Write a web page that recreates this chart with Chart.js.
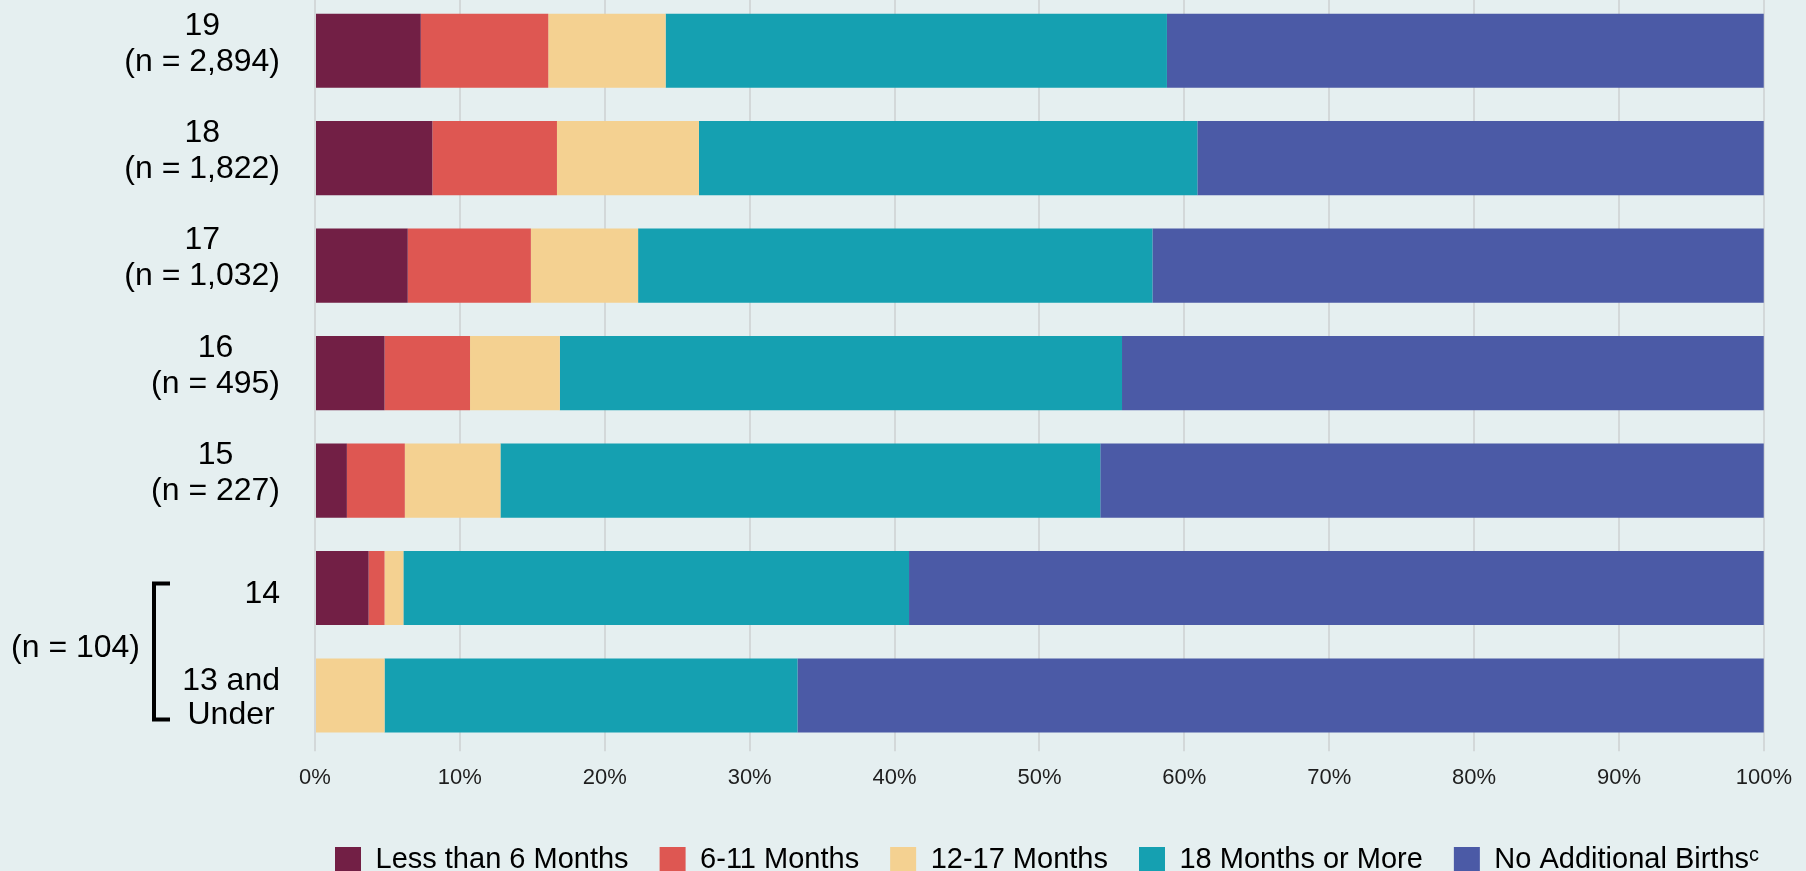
<!DOCTYPE html>
<html>
<head>
<meta charset="utf-8">
<title>Birth intervals by age at first birth</title>
<script src="https://cdn.jsdelivr.net/npm/chart.js@4/dist/chart.umd.min.js"></script>
<style>
  html, body { margin: 0; padding: 0; background: #e5eff0; overflow: hidden; width: 1806px; height: 871px; }
  #wrap { position: relative; width: 1806px; height: 871px; overflow: hidden; }
  #chart { position: absolute; left: 0; top: -3px; }
</style>
</head>
<body>
<div id="wrap"><canvas id="chart" width="1806" height="887"></canvas></div>
<script>
// Age at first birth, top to bottom
const ages = ['19', '18', '17', '16', '15', '14', '13 and Under'];
const sampleSizes = ['n = 2,894', 'n = 1,822', 'n = 1,032', 'n = 495', 'n = 227', null, null];
const groupedSize = 'n = 104'; // 14 and 13 and Under together

const seriesNames = ['Less than 6 Months', '6-11 Months', '12-17 Months', '18 Months or More', 'No Additional Births\u1D9C'];
const seriesColors = ['#721f45', '#de5752', '#f4d191', '#15a0b1', '#4b5aa6'];

// Percent of each age group
const lessThan6 = [7.3, 8.1, 6.4, 4.8, 2.2, 3.7, 0];
const months6to11 = [8.8, 8.6, 8.5, 5.9, 4.0, 1.1, 0];
const months12to17 = [8.1, 9.8, 7.4, 6.2, 6.6, 1.3, 4.8];
const months18plus = [34.6, 34.4, 35.5, 38.8, 41.4, 34.9, 28.5];
const noMoreBirths = [41.2, 39.1, 42.2, 44.3, 45.8, 59.0, 66.7];

const xTicks = [0, 10, 20, 30, 40, 50, 60, 70, 80, 90, 100];

const FONT = '"Liberation Sans", Arial, sans-serif';
const LABEL_RIGHT = 280;
const LEGEND_LEFT = 335;

// y-axis labels: each line centred, block right-aligned to the plot
const yLabelPlugin = {
    id: 'yLabels',
    afterDraw(chart) {
        const ctx = chart.ctx;
        const yScale = chart.scales.y;
        ctx.save();
        ctx.font = '32px ' + FONT;
        ctx.fillStyle = '#000';
        ctx.textBaseline = 'middle';
        ctx.textAlign = 'center';

        ages.forEach((age, i) => {
            const cy = yScale.getPixelForValue(i);
            let lines, offsets;
            if (sampleSizes[i]) {
                lines = [age, '(' + sampleSizes[i] + ')'];
                offsets = [-25, 11];
            } else if (age.indexOf(' ') > 0) {
                const k = age.indexOf(' and') + 4;
                lines = [age.slice(0, k), age.slice(k + 1)];
                offsets = [-14, 20];
            } else {
                lines = [age];
                offsets = [6];
            }
            const w = Math.max(...lines.map(t => ctx.measureText(t).width));
            const cx = LABEL_RIGHT - w / 2;
            lines.forEach((t, j) => ctx.fillText(t, cx, cy + offsets[j]));
        });

        // bracket round the two youngest groups
        const pTop = yScale.getPixelForValue(5);
        const pBot = yScale.getPixelForValue(6);
        ctx.strokeStyle = '#000';
        ctx.lineWidth = 4;
        ctx.beginPath();
        ctx.moveTo(170, pTop - 4.5);
        ctx.lineTo(154, pTop - 4.5);
        ctx.lineTo(154, pBot + 24);
        ctx.lineTo(170, pBot + 24);
        ctx.stroke();

        ctx.textAlign = 'right';
        ctx.fillText('(' + groupedSize + ')', 140, (pTop + pBot) / 2 + 6);
        ctx.restore();
    }
};

// move the legend row so it starts under the plot like the original
const legendPlacePlugin = {
    id: 'legendPlace',
    afterLayout(chart) {
        const lg = chart.legend;
        if (!lg) return;
        lg.left = LEGEND_LEFT - lg.options.labels.padding;
        lg.right = chart.width;
    }
};

const allSeries = [lessThan6, months6to11, months12to17, months18plus, noMoreBirths];

new Chart(document.getElementById('chart'), {
    type: 'bar',
    data: {
        labels: ages,
        datasets: allSeries.map((vals, i) => ({
            label: seriesNames[i],
            data: vals,
            backgroundColor: seriesColors[i],
            borderWidth: 0,
            categoryPercentage: 0.69,
            barPercentage: 1
        }))
    },
    options: {
        indexAxis: 'y',
        responsive: false,
        animation: false,
        layout: { padding: { left: 0, right: 41, top: 0, bottom: 0 } },
        scales: {
            x: {
                stacked: true,
                min: 0,
                max: 100,
                afterBuildTicks(scale) {
                    scale.ticks = xTicks.map(v => ({ value: v }));
                },
                grid: { color: '#d3d8d9', lineWidth: 2, tickLength: 2 },
                border: { display: false },
                ticks: {
                    padding: 14,
                    maxRotation: 0,
                    autoSkip: false,
                    color: '#1e1e1e',
                    font: { family: FONT, size: 22 },
                    callback: v => v + '%'
                },
                title: { display: true, text: '', padding: 0, font: { size: 7 } }
            },
            y: {
                stacked: true,
                grid: { display: false },
                border: { display: false },
                ticks: { display: false },
                afterFit(scale) { scale.width = 315; }
            }
        },
        plugins: {
            legend: {
                position: 'bottom',
                align: 'start',
                labels: {
                    boxWidth: 26,
                    boxHeight: 25,
                    padding: 31,
                    color: '#000',
                    font: { family: FONT, size: 29 }
                }
            },
            tooltip: { enabled: false }
        }
    },
    plugins: [yLabelPlugin, legendPlacePlugin]
});
</script>
</body>
</html>
